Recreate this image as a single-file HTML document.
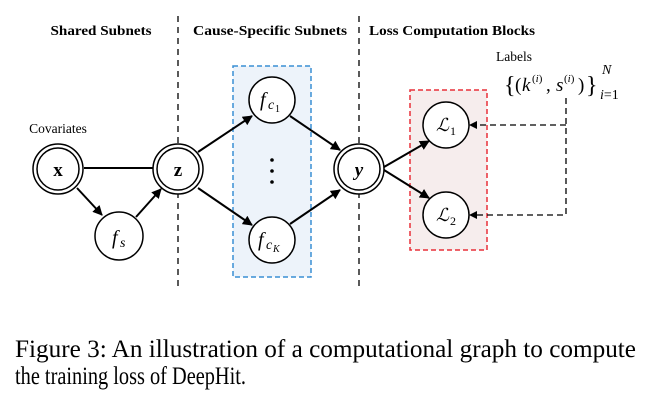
<!DOCTYPE html>
<html><head><meta charset="utf-8"><style>
html,body{margin:0;padding:0;background:#fff;}
svg{display:block;}
text{font-family:"Liberation Serif",serif;}
</style></head><body>
<svg width="662" height="406" viewBox="0 0 662 406" xmlns="http://www.w3.org/2000/svg">
<defs>
<marker id="a" markerWidth="10" markerHeight="10" refX="9" refY="5" orient="auto" markerUnits="userSpaceOnUse">
<path d="M0,0 L10,5 L0,10 z" fill="#000"/></marker>
</defs>
<rect x="233" y="66" width="78" height="211" fill="#edf3fa" stroke="#3a8fd4" stroke-width="1.5" stroke-dasharray="5,3"/>
<rect x="410" y="90" width="77" height="160" fill="#f6eded" stroke="#e8303a" stroke-width="1.5" stroke-dasharray="5,3"/>
<line x1="178" y1="16" x2="178" y2="288" stroke="#000" stroke-width="1.3" stroke-dasharray="6,5"/>
<line x1="359" y1="16" x2="359" y2="288" stroke="#000" stroke-width="1.3" stroke-dasharray="6,5"/>
<text x="101" y="35" font-size="14" font-weight="bold" text-anchor="middle" textLength="101" lengthAdjust="spacingAndGlyphs">Shared Subnets</text>
<text x="270" y="35" font-size="14" font-weight="bold" text-anchor="middle" textLength="154" lengthAdjust="spacingAndGlyphs">Cause-Specific Subnets</text>
<text x="452" y="35" font-size="14" font-weight="bold" text-anchor="middle" textLength="166" lengthAdjust="spacingAndGlyphs">Loss Computation Blocks</text>
<text x="58" y="133" font-size="13.5" text-anchor="middle">Covariates</text>
<text x="514" y="61" font-size="13.5" text-anchor="middle">Labels</text>
<line x1="84" y1="168" x2="153" y2="168" stroke="#000" stroke-width="2"/>
<line x1="77" y1="188" x2="102" y2="215" stroke="#000" stroke-width="2" marker-end="url(#a)"/>
<line x1="136" y1="217" x2="161" y2="189" stroke="#000" stroke-width="2" marker-end="url(#a)"/>
<line x1="198" y1="152" x2="252" y2="116" stroke="#000" stroke-width="2" marker-end="url(#a)"/>
<line x1="198" y1="188" x2="252" y2="225" stroke="#000" stroke-width="2" marker-end="url(#a)"/>
<line x1="290" y1="116" x2="340" y2="150" stroke="#000" stroke-width="2" marker-end="url(#a)"/>
<line x1="290" y1="224" x2="340" y2="190" stroke="#000" stroke-width="2" marker-end="url(#a)"/>
<line x1="384" y1="167" x2="429" y2="141" stroke="#000" stroke-width="2" marker-end="url(#a)"/>
<line x1="384" y1="170" x2="429" y2="198" stroke="#000" stroke-width="2" marker-end="url(#a)"/>
<path d="M566,98 L566,215 L474,215 M566,125 L474,125" fill="none" stroke="#000" stroke-width="1.3" stroke-dasharray="6,4"/>
<path d="M469,125 l8,-4 l0,8z M469,215 l8,-4 l0,8z" fill="#000"/>
<g fill="#fff" stroke="#000">
<circle cx="58" cy="169" r="25" stroke-width="1.5"/><circle cx="58" cy="169" r="21" stroke-width="1.5"/>
<circle cx="178" cy="169" r="25" stroke-width="1.5"/><circle cx="178" cy="169" r="21" stroke-width="1.5"/>
<circle cx="359" cy="169" r="25" stroke-width="1.5"/><circle cx="359" cy="169" r="21" stroke-width="1.5"/>
<circle cx="119" cy="236" r="24" stroke-width="1.5"/>
<circle cx="272" cy="100" r="23" stroke-width="1.5"/>
<circle cx="272" cy="240" r="23" stroke-width="1.5"/>
<circle cx="446" cy="125" r="23" stroke-width="1.5"/>
<circle cx="446" cy="215" r="23" stroke-width="1.5"/>
</g>
<circle cx="272" cy="160" r="1.8"/><circle cx="272" cy="171" r="1.8"/><circle cx="272" cy="182" r="1.8"/>
<text x="58" y="176" font-size="19" font-weight="bold" text-anchor="middle">x</text>
<text x="178" y="176" font-size="19" font-weight="bold" text-anchor="middle">z</text>
<text x="359" y="176" font-size="19" font-weight="bold" font-style="italic" text-anchor="middle">y</text>
<text x="112" y="244" font-size="20" font-style="italic">f</text><text x="120" y="247" font-size="14" font-style="italic">s</text>
<text x="260" y="106" font-size="20" font-style="italic">f</text><text x="268" y="109" font-size="14" font-style="italic">c</text><text x="275" y="112" font-size="10">1</text>
<text x="258" y="246" font-size="20" font-style="italic">f</text><text x="266" y="249" font-size="14" font-style="italic">c</text><text x="273" y="252" font-size="10" font-style="italic">K</text>
<text x="436" y="131" font-size="18" font-style="italic">ℒ</text><text x="450" y="135" font-size="12">1</text>
<text x="436" y="221" font-size="18" font-style="italic">ℒ</text><text x="450" y="225" font-size="12">2</text>
<text x="504" y="93" font-size="24">{</text>
<text x="515" y="91" font-size="19">(</text>
<text x="522" y="91" font-size="19" font-style="italic">k</text>
<text x="532" y="82" font-size="11">(<tspan font-style="italic">i</tspan>)</text>
<text x="546" y="91" font-size="19">,</text>
<text x="556" y="91" font-size="19" font-style="italic">s</text>
<text x="564" y="82" font-size="11">(<tspan font-style="italic">i</tspan>)</text>
<text x="578" y="91" font-size="19">)</text>
<text x="586" y="93" font-size="24">}</text>
<text x="602" y="74" font-size="14" font-style="italic">N</text>
<text x="600" y="99" font-size="14"><tspan font-style="italic">i</tspan>=1</text>
<text x="15" y="357" font-size="25" textLength="621" lengthAdjust="spacingAndGlyphs">Figure 3: An illustration of a computational graph to compute</text>
<text x="15" y="384" font-size="25" textLength="231" lengthAdjust="spacingAndGlyphs">the training loss of DeepHit.</text>
</svg>
</body></html>
